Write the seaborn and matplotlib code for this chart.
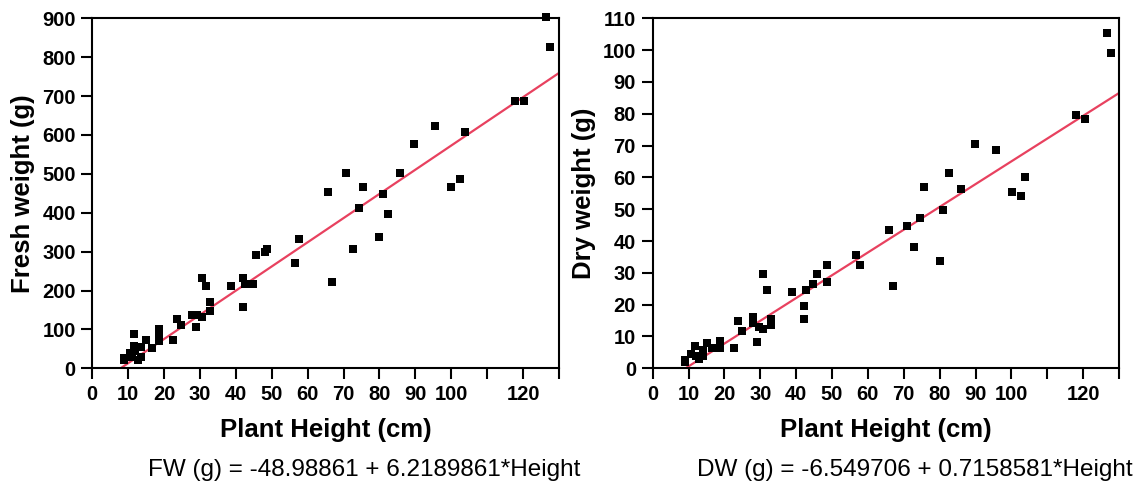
import numpy as np
import pandas as pd
import matplotlib
matplotlib.use("Agg")
import matplotlib.pyplot as plt
import seaborn as sns

# ---- data ----
fw_height = [126.4, 127.5, 117.7, 120.3, 95.5, 103.7, 89.5, 70.7, 85.8, 99.8,
             102.5, 65.7, 75.5, 80.9, 74.4, 82.5, 79.9, 72.7, 57.6, 56.5,
             66.9, 48.0, 48.6, 45.7, 42.0, 42.0, 42.6, 44.7, 38.7, 30.5,
             31.7, 32.8, 32.8, 30.5, 28.9, 27.9, 29.3, 23.5, 24.6, 22.5,
             18.7, 18.7, 18.7, 16.5, 14.9, 11.5, 11.5, 10.5, 8.8, 8.8,
             12.7, 13.7, 13.7, 12.0, 11.0]
fw = [903, 827, 687, 687, 622, 607, 577, 502, 502, 467,
      487, 453, 467, 447, 412, 397, 337, 307, 332, 272,
      222, 300, 306, 291, 232, 157, 217, 217, 212, 231,
      212, 171, 147, 133, 107, 137, 137, 127, 112, 72,
      102, 81, 70, 52, 73, 87, 57, 40, 21, 26,
      21, 30, 54, 45, 30]

dw_height = [126.6, 127.7, 117.9, 120.6, 89.8, 95.7, 82.7, 75.6, 86.0, 103.9,
             100.1, 102.8, 81.0, 74.6, 70.8, 65.9, 72.9, 80.0, 56.7, 57.8,
             67.0, 48.6, 48.6, 45.9, 44.8, 42.7, 38.8, 42.1, 42.1, 30.8,
             31.8, 32.9, 32.9, 30.8, 29.1, 28.0, 28.0, 29.6, 23.7, 24.8,
             22.6, 18.8, 18.8, 15.1, 16.6, 11.8, 13.9, 10.7, 9.0, 9.0,
             12.8, 13.9, 12.0]
dw = [105.4, 99.2, 79.7, 78.5, 70.5, 68.7, 61.3, 57.1, 56.4, 60.1,
      55.3, 54.1, 49.8, 47.2, 44.8, 43.6, 38.1, 33.8, 35.6, 32.6,
      25.9, 32.6, 27.0, 29.5, 26.5, 24.6, 24.0, 19.7, 15.4, 29.5,
      24.6, 15.4, 13.6, 12.4, 8.2, 16.0, 14.1, 13.0, 14.9, 11.7,
      6.3, 8.7, 6.3, 8.1, 6.3, 6.9, 5.8, 4.5, 2.6, 2.0,
      2.8, 3.9, 4.0]

fw_coef = (-48.98861, 6.2189861)
dw_coef = (-6.549706, 0.7158581)

x_ticks = list(range(0, 131, 10))
x_labels = ["" if t in (110, 130) else str(t) for t in x_ticks]

sns.set_theme(style="ticks")
plt.rcParams["font.family"] = ["Liberation Sans", "DejaVu Sans"]
plt.rcParams["font.weight"] = "bold"
plt.rcParams["axes.labelweight"] = "bold"
plt.rcParams["text.color"] = "black"
plt.rcParams["axes.labelcolor"] = "black"

fig = plt.figure(figsize=(11.38, 4.91), dpi=100)
ax1 = fig.add_axes([0.0811, 0.2499, 0.4101, 0.7128])
ax2 = fig.add_axes([0.5735, 0.2499, 0.4098, 0.7128])

panels = [
    (ax1, fw_height, fw, fw_coef, 900, 100, "Fresh weight (g)",
     "FW (g) = -48.98861 + 6.2189861*Height", 0.320),
    (ax2, dw_height, dw, dw_coef, 110, 10, "Dry weight (g)",
     "DW (g) = -6.549706 + 0.7158581*Height", 0.804),
]

for ax, hx, wy, coef, ymax, ystep, ylab, eq, eqx in panels:
    df = pd.DataFrame({"height": hx, "weight": wy})
    sns.scatterplot(data=df, x="height", y="weight", ax=ax, marker="s",
                    color="black", s=38, linewidth=0, zorder=3, clip_on=False)
    xs = np.linspace(0, 130, 200)
    ax.plot(xs, coef[0] + coef[1] * xs, color="#e8415f", lw=1.6, zorder=2)
    ax.set_xlim(0, 130)
    ax.set_ylim(0, ymax)
    ax.set_xticks(x_ticks)
    ax.set_xticklabels(x_labels)
    ax.set_yticks(range(0, ymax + 1, ystep))
    ax.tick_params(direction="out", length=8, width=1.5, labelsize=14.5,
                   pad=4, color="black", labelcolor="black")
    for sp in ax.spines.values():
        sp.set_linewidth(1.5)
        sp.set_color("black")
    ax.set_xlabel("Plant Height (cm)", fontsize=18.5, labelpad=10)
    ax.set_ylabel(ylab, fontsize=18.5, labelpad=5)
    fig.text(eqx, 0.043, eq, ha="center", va="center", fontsize=17.5,
             fontweight="normal", color="black")

fig.savefig("out.png", dpi=100)
